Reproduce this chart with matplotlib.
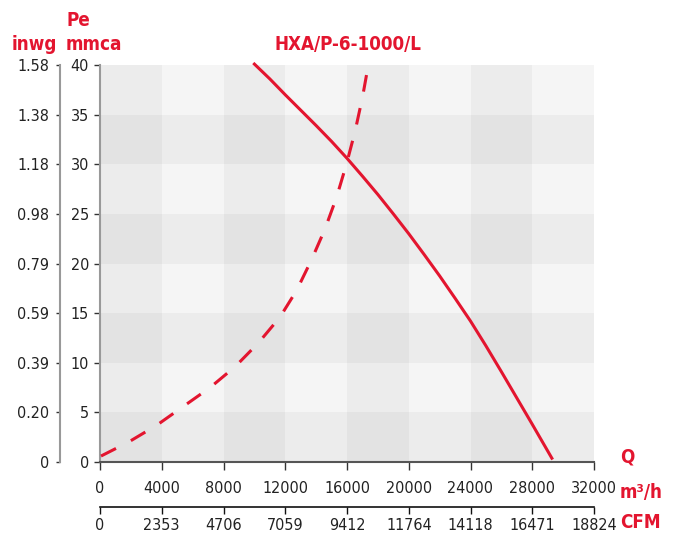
import matplotlib.pyplot as plt
import numpy as np

plt.rcParams["font.family"] = ["DejaVu Sans"]
plt.rcParams["font.stretch"] = "condensed"

RED = "#e3152f"

# fan curve (m3/h, mmca)
fan_q = [9930, 11000, 12000, 13000, 14000, 15000, 16000, 17000, 18000, 19000,
         20000, 21000, 22000, 23000, 24000, 25000, 26000, 27000, 28000, 29320]
fan_p = [40.2, 38.6, 37.0, 35.45, 33.9, 32.3, 30.6, 28.8, 26.95, 25.0,
         23.0, 20.9, 18.75, 16.5, 14.2, 11.7, 9.1, 6.45, 3.8, 0.25]

# system curve (dashed)
sys_q = [65, 1840, 3670, 5400, 7130, 8750, 10260, 11660, 12740, 13710, 14580,
         15330, 15980, 16520, 17010, 17380]
sys_p = [0.6, 2.0, 3.7, 5.6, 7.5, 9.6, 12.0, 14.6, 17.3, 20.4, 23.5,
         26.7, 30.1, 33.3, 36.8, 40.0]

q_ticks = [0, 4000, 8000, 12000, 16000, 20000, 24000, 28000, 32000]
cfm_labels = ["0", "2353", "4706", "7059", "9412", "11764", "14118", "16471", "18824"]
p_ticks = [0, 5, 10, 15, 20, 25, 30, 35, 40]
inwg_labels = ["0", "0.20", "0.39", "0.59", "0.79", "0.98", "1.18", "1.38", "1.58"]

W, H = 680, 541
fig = plt.figure(figsize=(W / 100, H / 100), dpi=100)
x0, x1, y0, y1 = 100, 594, 462, 65
ax = fig.add_axes([x0 / W, 1 - y0 / H, (x1 - x0) / W, (y0 - y1) / H])

# checkered background
for i in range(len(q_ticks) - 1):
    for j in range(len(p_ticks) - 1):
        shade = 0.96 - 0.035 * ((i + 1) % 2) - 0.035 * ((j + 1) % 2)
        ax.add_patch(plt.Rectangle((q_ticks[i], p_ticks[j]), q_ticks[i + 1] - q_ticks[i],
                                   p_ticks[j + 1] - p_ticks[j], color=str(shade), lw=0, zorder=0))

ax.plot(fan_q, fan_p, color=RED, lw=2.2, solid_capstyle="butt", solid_joinstyle="round",
        zorder=3, clip_on=False)
ax.plot(sys_q, sys_p, color=RED, lw=2.2, dashes=(5.5, 5.5), zorder=3, clip_on=False)

ax.set_xlim(0, 32000)
ax.set_ylim(0, 40)
for s in ["top", "right"]:
    ax.spines[s].set_visible(False)
ax.spines["left"].set_color("#999999")
ax.spines["left"].set_linewidth(1.5)
ax.spines["bottom"].set_color("#555555")
ax.spines["bottom"].set_linewidth(1.5)

ax.set_xticks(q_ticks)
ax.set_xticklabels([str(v) for v in q_ticks])
ax.set_yticks(p_ticks)
ax.tick_params(axis="x", length=6, width=1, color="#333333", labelsize=11.5, pad=8, labelcolor="#222222")
ax.tick_params(axis="y", length=4, width=1, color="#333333", labelsize=11.5, pad=4, labelcolor="#222222")

# inwg axis on the left
sy = ax.secondary_yaxis((60 - x0) / (x1 - x0))
sy.set_yticks(p_ticks, labels=inwg_labels)
sy.spines["left"].set_color("#999999")
sy.spines["left"].set_linewidth(1.5)
sy.tick_params(length=3, width=1, color="#333333", labelsize=11.5, pad=5, labelcolor="#222222")

# CFM axis below
sx = ax.secondary_xaxis(-(507 - y0) / (y0 - y1))
sx.set_xticks(q_ticks, labels=cfm_labels)
sx.spines["bottom"].set_color("#111111")
sx.spines["bottom"].set_linewidth(1.2)
sx.tick_params(length=5, width=1, color="#111111", labelsize=11.5, pad=3, labelcolor="#222222")

lab = dict(color=RED, fontsize=13.5, fontweight="bold", va="center")
fig.text(12 / W, 1 - 45 / H, "inwg", ha="left", **lab)
fig.text(66 / W, 1 - 20 / H, "Pe", ha="left", **lab)
fig.text(66 / W, 1 - 45 / H, "mmca", ha="left", **lab)
fig.text(275 / W, 1 - 45 / H, "HXA/P-6-1000/L", ha="left", **lab)
fig.text(620 / W, 1 - 457 / H, "Q", ha="left", **lab)
fig.text(620 / W, 1 - 493 / H, "m³/h", ha="left", **lab)
fig.text(620 / W, 1 - 522 / H, "CFM", ha="left", **lab)

fig.savefig("out.png", dpi=100)
